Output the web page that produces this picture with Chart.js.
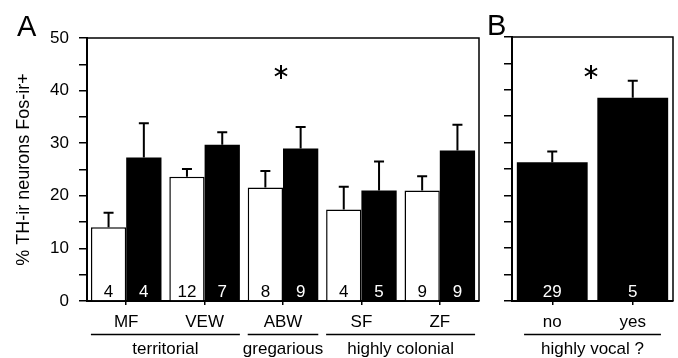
<!DOCTYPE html>
<html>
<head>
<meta charset="utf-8">
<script src="https://cdn.jsdelivr.net/npm/chart.js@4"></script>
<style>
  body { margin: 0; background: #fff; }
  #wrap { position: relative; width: 678px; height: 358px; }
  #chartA { position: absolute; left: 0; top: 0; }
  #chartB { position: absolute; left: 482px; top: 0; }
</style>
</head>
<body>
<div id="wrap">
  <canvas id="chartA" width="482" height="358"></canvas>
  <canvas id="chartB" width="196" height="358"></canvas>
</div>
<script>
// Panel A data
const speciesA = ["MF", "VEW", "ABW", "SF", "ZF"];
const whiteVals = [14.0, 23.6, 21.6, 17.4, 21.0];
const whiteErr = [2.8, 1.5, 3.1, 4.3, 2.7];
const whiteN = ["4", "12", "8", "4", "9"];
const blackVals = [27.3, 29.7, 29.0, 21.0, 28.6];
const blackErr = [6.5, 2.4, 4.1, 5.5, 4.9];
const blackN = ["4", "7", "9", "5", "9"];
const groupsA = [
  { label: "territorial", from: 0, to: 1 },
  { label: "gregarious", from: 2, to: 2 },
  { label: "highly colonial", from: 3, to: 4 },
];

// Panel B data
const vocalCats = ["no", "yes"];
const vocalVals = [26.3, 38.5];
const vocalErr = [2.0, 3.2];
const vocalN = ["29", "5"];
const groupsB = [{ label: "highly vocal ?", from: 0, to: 1 }];

const yTicks = [0, 10, 20, 30, 40, 50];
const FONT = "'Liberation Sans', Arial, Helvetica, sans-serif";

Chart.defaults.font.family = FONT;
Chart.defaults.color = "#000";

// error bars, n labels, frame, group lines
const extras = {
  id: "extras",
  afterDatasetsDraw(chart, args, opts) {
    const ctx = chart.ctx;
    const area = chart.chartArea;
    ctx.save();
    chart.data.datasets.forEach((ds, di) => {
      const meta = chart.getDatasetMeta(di);
      meta.data.forEach((bar, i) => {
        const yScale = chart.scales.y;
        const top = yScale.getPixelForValue(ds.data[i] + ds.err[i]);
        ctx.strokeStyle = "#000";
        ctx.lineWidth = 2;
        ctx.beginPath();
        ctx.moveTo(bar.x, bar.y);
        ctx.lineTo(bar.x, top);
        ctx.moveTo(bar.x - 5, top);
        ctx.lineTo(bar.x + 5, top);
        ctx.stroke();
        // n label
        ctx.fillStyle = ds.nColor;
        ctx.font = "17px " + FONT;
        ctx.textAlign = "center";
        ctx.textBaseline = "middle";
        ctx.fillText(ds.n[i], bar.x, area.bottom - 9);
      });
    });
    // frame top and right
    ctx.strokeStyle = "#000";
    ctx.lineWidth = 1.5;
    ctx.beginPath();
    ctx.moveTo(area.left, area.top);
    ctx.lineTo(area.right, area.top);
    ctx.lineTo(area.right, area.bottom);
    ctx.stroke();

    // group lines + labels
    const x = chart.scales.x;
    const step = x.getPixelForValue(1) - x.getPixelForValue(0);
    ctx.lineWidth = 1.5;
    ctx.fillStyle = "#000";
    ctx.font = "17px " + FONT;
    ctx.textAlign = "center";
    ctx.textBaseline = "middle";
    opts.groups.forEach(g => {
      const x0 = x.getPixelForValue(g.from) - step * opts.span;
      const x1 = x.getPixelForValue(g.to) + step * opts.span;
      ctx.beginPath();
      ctx.moveTo(x0, 334.5);
      ctx.lineTo(x1, 334.5);
      ctx.stroke();
      ctx.fillText(g.label, (x0 + x1) / 2, 349);
    });

    // asterisk
    const sx = opts.star[0], sy = opts.star[1];
    ctx.lineWidth = 2;
    ctx.beginPath();
    for (let a = 0; a < 3; a++) {
      const ang = Math.PI / 2 + a * Math.PI / 3;
      ctx.moveTo(sx + 7 * Math.cos(ang), sy + 7 * Math.sin(ang));
      ctx.lineTo(sx - 7 * Math.cos(ang), sy - 7 * Math.sin(ang));
    }
    ctx.stroke();

    // panel letter
    ctx.font = "29px " + FONT;
    ctx.textAlign = "left";
    ctx.textBaseline = "alphabetic";
    ctx.fillText(opts.letter[0], opts.letter[1], opts.letter[2]);
    ctx.restore();
  },
};

function yAxis(width, showLabels, title) {
  return {
    min: 0,
    max: 50,
    ticks: {
      stepSize: 5,
      font: { size: 17 },
      padding: 10,
      callback: v => (showLabels && yTicks.includes(v) ? v : ""),
    },
    grid: { drawOnChartArea: false, tickLength: 8, color: "#000", lineWidth: 1.5 },
    border: { color: "#000", width: 2 },
    title: {
      display: !!title,
      text: title,
      font: { size: 18 },
      padding: { top: 13 },
    },
    afterFit: s => { s.width = width; },
  };
}

function xAxis() {
  return {
    ticks: { font: { size: 17 }, padding: 7, autoSkip: false, maxRotation: 0 },
    grid: { drawOnChartArea: false, offset: false, tickLength: 4, color: "#000", lineWidth: 1.5 },
    border: { color: "#000", width: 2 },
    afterFit: s => { s.height = 57; },
  };
}

new Chart("chartA", {
  type: "bar",
  data: {
    labels: speciesA,
    datasets: [
      {
        data: whiteVals, err: whiteErr, n: whiteN, nColor: "#000",
        backgroundColor: "#fff", borderColor: "#000", borderWidth: 1.5, borderSkipped: "bottom",
      },
      {
        data: blackVals, err: blackErr, n: blackN, nColor: "#fff",
        backgroundColor: "#000", borderColor: "#000", borderWidth: 0,
      },
    ],
  },
  options: {
    responsive: false,
    animation: false,
    layout: { padding: { top: 38, right: 3, left: 0, bottom: 0 } },
    datasets: { bar: { categoryPercentage: 0.9, barPercentage: 1 } },
    plugins: {
      legend: { display: false },
      tooltip: { enabled: false },
      extras: { groups: groupsA, span: 0.45, star: [281, 72], letter: ["A", 17, 36] },
    },
    scales: { x: xAxis(), y: yAxis(87, true, "% TH-ir neurons Fos-ir+") },
  },
  plugins: [extras],
});

new Chart("chartB", {
  type: "bar",
  data: {
    labels: vocalCats,
    datasets: [
      {
        data: vocalVals, err: vocalErr, n: vocalN, nColor: "#fff",
        backgroundColor: "#000", borderColor: "#000", borderWidth: 0,
      },
    ],
  },
  options: {
    responsive: false,
    animation: false,
    layout: { padding: { top: 37, right: 5, left: 0, bottom: 0 } },
    datasets: { bar: { categoryPercentage: 0.88, barPercentage: 1 } },
    plugins: {
      legend: { display: false },
      tooltip: { enabled: false },
      extras: { groups: groupsB, span: 0.35, star: [109, 72], letter: ["B", 5, 35] },
    },
    scales: { x: xAxis(), y: yAxis(30, false, "") },
  },
  plugins: [extras],
});
</script>
</body>
</html>
